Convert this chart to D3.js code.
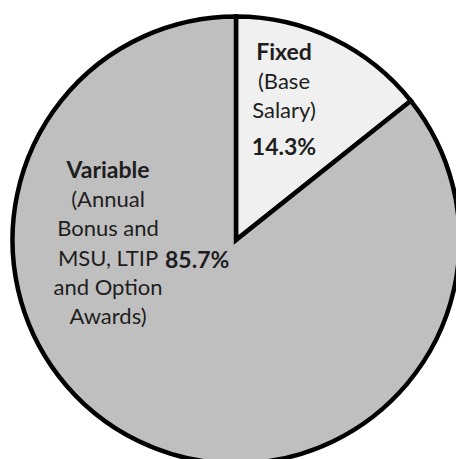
<!DOCTYPE html>
<html>
<head>
<meta charset="utf-8">
<script src="https://cdn.jsdelivr.net/npm/d3@7"></script>
<style>
  html, body { margin: 0; padding: 0; background: #fff; }
  svg { display: block; }
</style>
</head>
<body>
<svg id="chart"></svg>
<script>
// data
const categories = ['Fixed', 'Variable']
const values = [14.3, 85.7]
const descriptions = [
  ['(Base', 'Salary)'],
  ['(Annual', 'Bonus and', 'MSU, LTIP', 'and Option', 'Awards)']
]

const width = 456
const height = 459
const cx = 236
const cy = 240
const radius = 223.5
const fills = ['#f0f0f0', '#bfbfbf']
const textColor = '#1e1e1e'
const fontSize = 23
const lineH = 29.2

const svg = d3.select('#chart')
  .attr('width', width)
  .attr('height', height)
  .style('font-family', 'Lato, "Open Sans", sans-serif')

const g = svg.append('g')
  .attr('transform', 'translate(' + cx + ',' + cy + ')')

const pie = d3.pie()
  .sort(null)
  .value((d) => d.value)

const arc = d3.arc()
  .innerRadius(0)
  .outerRadius(radius)

const data = categories.map((c, i) => ({ key: c, value: values[i], desc: descriptions[i] }))
const arcs = pie(data)

g.selectAll('path.slice')
  .data(arcs)
  .enter()
  .append('path')
  .classed('slice', true)
  .attr('d', arc)
  .attr('fill', (d, i) => fills[i])
  .attr('stroke', '#000')
  .attr('stroke-width', 4.5)
  .attr('stroke-linejoin', 'miter')

const pct = (v) => d3.format('.1f')(v) + '%'

// label placement (offsets from pie center), mimicking the spreadsheet's best-fit labels
const labelPos = [
  { x: 48, y: -180, pctX: 48, pctY: -85, pctAnchor: 'middle' },
  { x: -128, y: -62, pctX: -71, pctY: 28, pctAnchor: 'start' }
]

const labels = g.selectAll('g.label')
  .data(arcs)
  .enter()
  .append('g')
  .classed('label', true)

labels.append('text')
  .attr('x', (d, i) => labelPos[i].x)
  .attr('y', (d, i) => labelPos[i].y)
  .attr('text-anchor', 'middle')
  .attr('font-size', fontSize)
  .attr('font-weight', 'bold')
  .attr('fill', textColor)
  .text((d) => d.data.key)

labels.each(function (d, i) {
  const sel = d3.select(this)
  d.data.desc.forEach((line, j) => {
    sel.append('text')
      .attr('x', labelPos[i].x)
      .attr('y', labelPos[i].y + lineH * (j + 1))
      .attr('text-anchor', 'middle')
      .attr('font-size', fontSize - 1)
      .attr('fill', textColor)
      .text(line)
  })
})

labels.append('text')
  .attr('x', (d, i) => labelPos[i].pctX)
  .attr('y', (d, i) => labelPos[i].pctY)
  .attr('text-anchor', (d, i) => labelPos[i].pctAnchor)
  .attr('font-size', fontSize)
  .attr('font-weight', 'bold')
  .attr('fill', textColor)
  .text((d) => pct(d.data.value))
</script>
</body>
</html>
